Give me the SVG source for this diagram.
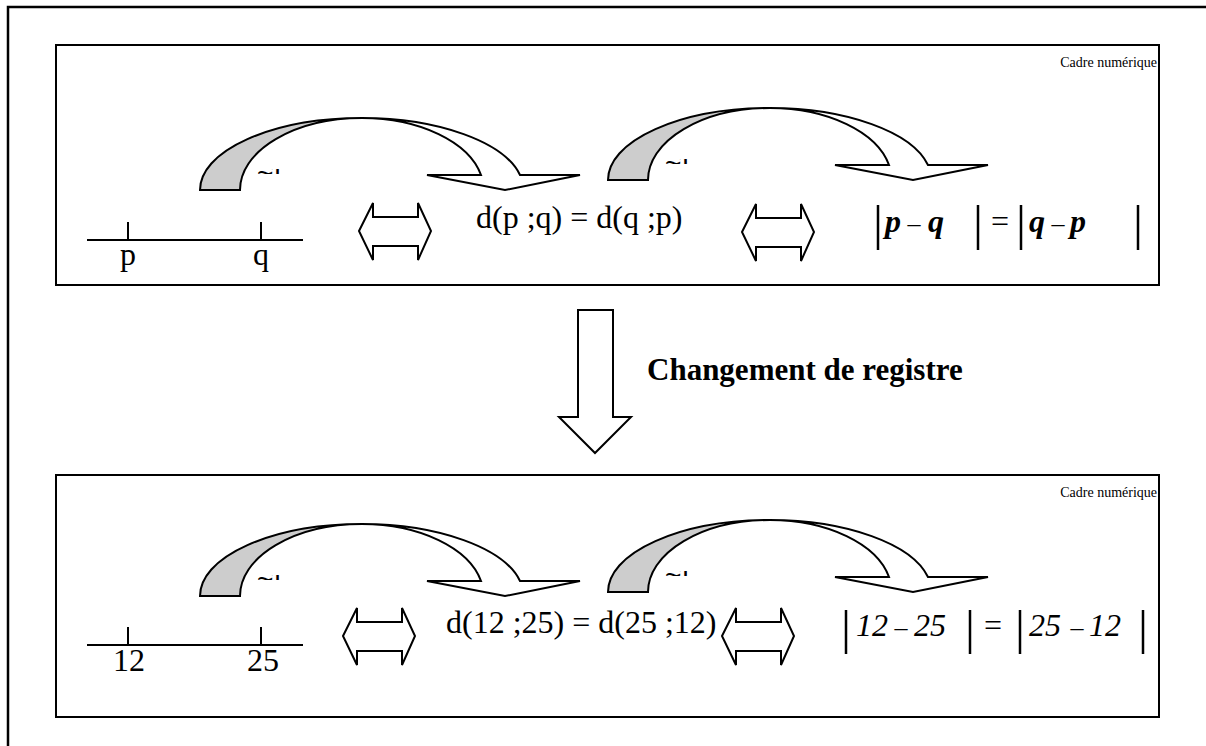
<svg xmlns="http://www.w3.org/2000/svg" width="1206" height="746" viewBox="0 0 1206 746">
<style>
.frame{fill:none;stroke:#000;stroke-width:2.5}
.box{fill:none;stroke:#000;stroke-width:2}
.shape{stroke:#000;stroke-width:2;stroke-linejoin:miter}
.gray{fill:#cdcdcd}
.white{fill:#fff}
.line{stroke:#000;stroke-width:2;fill:none}
.t{font-family:"Liberation Serif","Times New Roman",serif;fill:#000}
.main{font-size:32px}
.small{font-size:14px}
.bi{font-size:32px;font-weight:bold;font-style:italic}
.it{font-size:32px;font-style:italic}
.dash{font-size:26px}
.bar{stroke:#000;stroke-width:2.5}
.art{font-family:"Liberation Sans",Arial,sans-serif;font-size:28px;fill:#000;letter-spacing:-4px}
</style>
<defs>
<clipPath id="artclip" clipPathUnits="userSpaceOnUse"><rect x="54" y="-21" width="32" height="5"/></clipPath>
<g id="curved">
<path class="shape gray" d="M0,0 A162,72 0 0 1 162,-72 A122,72 0 0 0 40,0 Z"/>
<path class="shape white" d="M162,-72 A162,72 0 0 1 320,-15 L380,-15 L305,0 L227,-15 L281,-15 A122,72 0 0 0 162,-72 Z"/>
<text class="art" x="57" y="-7" clip-path="url(#artclip)">~1</text>
</g>
<polygon id="dbl" class="shape white" points="0,0 14,-28 14,-14 59,-14 59,-28 72,0 59,29 59,15 14,15 14,29"/>
</defs>

<rect class="frame" x="8" y="7" width="1210" height="760"/>

<g id="top-frame">
<rect class="box" x="56" y="45" width="1103" height="240"/>
<text class="t small" x="1157" y="67" text-anchor="end">Cadre numérique</text>
</g>

<g id="top-numberline">
<line class="line" x1="87" y1="240" x2="303" y2="240"/>
<line class="line" x1="128" y1="222" x2="128" y2="240"/>
<line class="line" x1="261" y1="222" x2="261" y2="240"/>
<text class="t main" x="128" y="265" text-anchor="middle">p</text>
<text class="t main" x="261" y="265" text-anchor="middle">q</text>
</g>

<g id="top-distance">
<text class="t main" x="476" y="228">d(p ;q) = d(q ;p)</text>
</g>

<g id="top-abs">
<line class="bar" x1="878" y1="205" x2="878" y2="250"/>
<text class="t bi" x="885" y="232">p</text>
<text class="t dash" x="914" y="232" text-anchor="middle">–</text>
<text class="t bi" x="928" y="232">q</text>
<line class="bar" x1="978" y1="205" x2="978" y2="250"/>
<text class="t main" x="991" y="232">=</text>
<line class="bar" x1="1021" y1="205" x2="1021" y2="250"/>
<text class="t bi" x="1029" y="232">q</text>
<text class="t dash" x="1058" y="232" text-anchor="middle">–</text>
<text class="t bi" x="1070" y="232">p</text>
<line class="bar" x1="1138" y1="205" x2="1138" y2="250"/>
</g>

<g id="top-connectors">
<use href="#curved" transform="translate(200,190)"/>
<use href="#curved" transform="translate(608,180)"/>
<use href="#dbl" transform="translate(359,231)"/>
<use href="#dbl" transform="translate(742,232)"/>
</g>

<g id="register-change">
<polygon class="shape white" points="578,310 613,310 613,417 631,417 595,453 559,417 578,417"/>
<text class="t" x="647" y="380" font-size="31" font-weight="bold">Changement de registre</text>
</g>

<g id="bottom-frame">
<rect class="box" x="56" y="475" width="1103" height="242"/>
<text class="t small" x="1157" y="497" text-anchor="end">Cadre numérique</text>
</g>

<g id="bottom-numberline">
<line class="line" x1="87" y1="645" x2="303" y2="645"/>
<line class="line" x1="128" y1="627" x2="128" y2="645"/>
<line class="line" x1="261" y1="627" x2="261" y2="645"/>
<text class="t main" x="129" y="671" text-anchor="middle">12</text>
<text class="t main" x="263" y="671" text-anchor="middle">25</text>
</g>

<g id="bottom-distance">
<text class="t main" x="446" y="633">d(12 ;25) = d(25 ;12)</text>
</g>

<g id="bottom-abs">
<line class="bar" x1="846" y1="610" x2="846" y2="654"/>
<text class="t it" x="856" y="636">12</text>
<text class="t dash" x="901" y="636" text-anchor="middle">–</text>
<text class="t it" x="914" y="636">25</text>
<line class="bar" x1="970" y1="610" x2="970" y2="654"/>
<text class="t main" x="984" y="636">=</text>
<line class="bar" x1="1020" y1="610" x2="1020" y2="654"/>
<text class="t it" x="1029" y="636">25</text>
<text class="t dash" x="1077" y="636" text-anchor="middle">–</text>
<text class="t it" x="1089" y="636">12</text>
<line class="bar" x1="1143" y1="610" x2="1143" y2="654"/>
</g>

<g id="bottom-connectors">
<use href="#curved" transform="translate(200,596)"/>
<use href="#curved" transform="translate(608,592)"/>
<use href="#dbl" transform="translate(343,636)"/>
<use href="#dbl" transform="translate(722,636)"/>
</g>
</svg>
